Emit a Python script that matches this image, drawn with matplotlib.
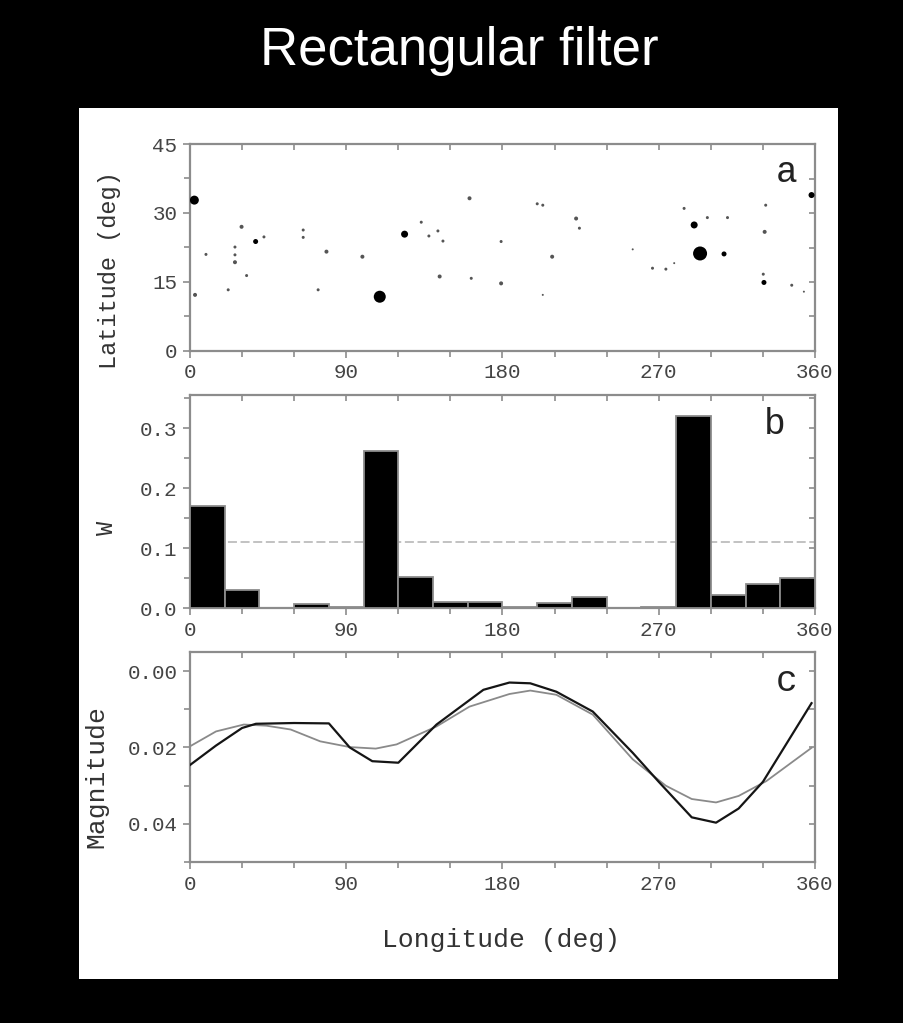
import numpy as np
import matplotlib
matplotlib.use("Agg")
import matplotlib.pyplot as plt
from matplotlib.patches import Rectangle
from matplotlib.ticker import MultipleLocator, FormatStrFormatter

# -------------------------------
# 1. Data
# -------------------------------
# panel a: spots (longitude, latitude, size in px)
spot_lon = [2.5, 29.7, 9.2, 25.9, 25.9, 25.9, 37.8, 42.6, 32.6, 22.0, 2.9, 65.2, 65.2,
            78.6, 73.8, 99.3, 109.3, 123.6, 133.2, 137.6, 142.8, 145.7, 161.0, 143.8,
            162.0, 179.2, 179.2, 200.0, 203.2, 222.4, 224.3, 208.6, 203.2, 255.0, 266.4,
            274.1, 278.9, 284.6, 290.4, 298.0, 309.6, 293.8, 307.6, 331.6, 331.0, 330.2,
            330.6, 346.6, 353.6, 358.0]
spot_lat = [32.8, 27.0, 21.0, 22.6, 20.9, 19.3, 23.8, 24.8, 16.4, 13.3, 12.2, 26.3, 24.7,
            21.6, 13.3, 20.5, 11.8, 25.4, 28.0, 25.0, 26.1, 23.9, 33.2, 16.2,
            15.8, 23.8, 14.7, 32.0, 31.7, 28.8, 26.7, 20.5, 12.2, 22.1, 18.0,
            17.8, 19.1, 31.0, 27.4, 29.0, 29.0, 21.2, 21.1, 31.7, 25.9, 16.7,
            14.9, 14.3, 12.9, 33.9]
spot_px = [9, 4, 3, 3, 3, 4, 5, 3, 3, 3, 4, 3, 3,
           4, 3, 4, 12, 7, 3, 3, 3, 3, 4, 4,
           3, 3, 4, 3, 3, 4, 3, 4, 2, 2, 3,
           3, 2, 3, 7, 3, 3, 14, 5, 3, 4, 3,
           5, 3, 2, 6]

# panel b: weights in 20 deg longitude bins
bin_left = list(range(0, 360, 20))
w_values = [0.170, 0.030, 0.000, 0.006, 0.002, 0.262, 0.052, 0.010, 0.010,
            0.002, 0.008, 0.018, 0.000, 0.002, 0.320, 0.022, 0.040, 0.050]
w_mean = 0.11

# panel c: magnitude curves
black_lon = [0, 15, 30, 38, 60, 80, 92, 105, 120, 142, 169, 184, 196, 211, 232,
             255, 270, 289, 303, 316, 330, 358]
black_mag = [0.0246, 0.0195, 0.0149, 0.0138, 0.0136, 0.0137, 0.0200, 0.0236, 0.0240,
             0.0140, 0.0049, 0.0030, 0.0032, 0.0054, 0.0106, 0.0214, 0.0290, 0.0383,
             0.0397, 0.0360, 0.0290, 0.0084]
gray_lon = [0, 15, 31, 44, 58, 75, 92, 107, 119, 142, 161, 184, 196, 211, 232,
            255, 274, 289, 303, 316, 332, 358]
gray_mag = [0.0197, 0.0158, 0.0140, 0.0143, 0.0153, 0.0184, 0.0199, 0.0203, 0.0192,
            0.0145, 0.0093, 0.0060, 0.0051, 0.0062, 0.0114, 0.0231, 0.0300, 0.0335,
            0.0344, 0.0327, 0.0288, 0.0201]

# -------------------------------
# 2. Figure + backgrounds
# -------------------------------
W, H = 904, 1023
fig = plt.figure(figsize=(W / 100, H / 100), dpi=100, facecolor="black")


def fx(px):
    return px / W


def fy(py):
    return 1 - py / H


fig.patches.append(Rectangle((fx(79), fy(979)), fx(838) - fx(79), fy(108) - fy(979),
                             transform=fig.transFigure, facecolor="white",
                             edgecolor="none", zorder=-10))

fig.text(0.508, fy(51), "Rectangular filter", color="white", fontsize=38,
         family="Liberation Sans", ha="center", va="center")

mono = "Liberation Mono"
spine_c = "#8c8c8c"
tick_c = "#444444"


def make_axes(top, bottom, ymajor, yminor):
    ax = fig.add_axes([fx(190), fy(bottom), fx(815) - fx(190), fy(top) - fy(bottom)])
    ax.set_facecolor("white")
    for s in ax.spines.values():
        s.set_color(spine_c)
        s.set_linewidth(1.6)
    ax.set_xlim(0, 360)
    ax.xaxis.set_major_locator(MultipleLocator(90))
    ax.xaxis.set_minor_locator(MultipleLocator(30))
    ax.yaxis.set_major_locator(MultipleLocator(ymajor))
    ax.yaxis.set_minor_locator(MultipleLocator(yminor))
    ax.tick_params(which="both", direction="out", color=spine_c, width=1.2,
                   labelsize=15, labelcolor=tick_c, pad=4)
    ax.tick_params(which="major", length=5)
    ax.tick_params(which="minor", length=4)

    # inward ticks on top and right, no labels
    top_ax = ax.secondary_xaxis("top")
    top_ax.xaxis.set_major_locator(MultipleLocator(90))
    top_ax.xaxis.set_minor_locator(MultipleLocator(30))
    right_ax = ax.secondary_yaxis("right")
    right_ax.yaxis.set_major_locator(MultipleLocator(ymajor))
    right_ax.yaxis.set_minor_locator(MultipleLocator(yminor))
    for sec in (top_ax, right_ax):
        sec.tick_params(which="both", direction="in", color=spine_c, width=1.2,
                        labeltop=False, labelright=False, length=4)
        for s in sec.spines.values():
            s.set_visible(False)
    return ax


# -------------------------------
# 3. Panel a - spots
# -------------------------------
ax1 = make_axes(144, 351, 15, 7.5)
sizes = [(d * 0.72) ** 2 for d in spot_px]
colors = ["black" if d >= 5 else "#555555" for d in spot_px]
ax1.scatter(spot_lon, spot_lat, s=sizes, c=colors, linewidths=0, zorder=3)
ax1.set_ylim(0, 45)
ax1.text(0.955, 0.86, "a", transform=ax1.transAxes, fontsize=26, family=mono,
         color="#222222", ha="center", va="center")

# -------------------------------
# 4. Panel b - weights
# -------------------------------
ax2 = make_axes(395, 608, 0.1, 0.05)
ax2.bar(bin_left, w_values, width=20, align="edge", color="black",
        edgecolor="#8c8c8c", linewidth=1.3, zorder=3)
ax2.axhline(w_mean, color="#bdbdbd", linestyle=(0, (5, 2)), linewidth=1.3, zorder=2)
ax2.set_ylim(0, 0.355)
ax2.yaxis.set_major_formatter(FormatStrFormatter("%.1f"))
ax2.text(0.935, 0.86, "b", transform=ax2.transAxes, fontsize=26, family=mono,
         color="#222222", ha="center", va="center")

# -------------------------------
# 5. Panel c - magnitude
# -------------------------------
ax3 = make_axes(652, 862, 0.02, 0.01)
ax3.plot(gray_lon, gray_mag, color="#8a8a8a", linewidth=1.3, zorder=3)
ax3.plot(black_lon, black_mag, color="#151515", linewidth=1.6, zorder=4)
ax3.set_ylim(0.05, -0.005)
ax3.yaxis.set_major_formatter(FormatStrFormatter("%.2f"))
ax3.text(0.955, 0.86, "c", transform=ax3.transAxes, fontsize=26, family=mono,
         color="#222222", ha="center", va="center")

for ax in (ax1, ax2, ax3):
    for lab in ax.get_xticklabels() + ax.get_yticklabels():
        lab.set_family(mono)

# axis labels
fig.text(fx(110), fy(270), "Latitude (deg)", rotation=90, fontsize=17, family=mono,
         color="#333333", ha="center", va="center")
fig.text(fx(107), fy(528), "W", rotation=90, fontsize=17, family=mono,
         color="#333333", ha="center", va="center")
fig.text(fx(96), fy(777), "Magnitude", rotation=90, fontsize=19, family=mono,
         color="#333333", ha="center", va="center")
fig.text(fx(501), fy(940), "Longitude (deg)", fontsize=19, family=mono,
         color="#333333", ha="center", va="center")

fig.savefig("out.png", dpi=100, facecolor="black")
